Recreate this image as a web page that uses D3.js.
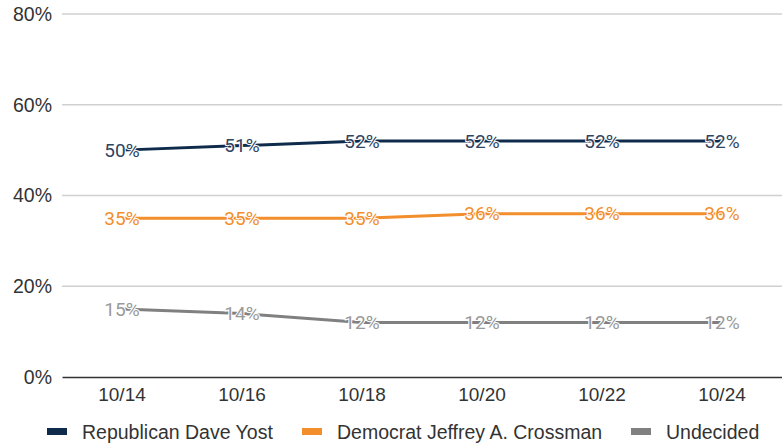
<!DOCTYPE html>
<html>
<head>
<meta charset="utf-8">
<script src="https://cdn.jsdelivr.net/npm/d3@7"></script>
<style>
  body { margin: 0; background: #fff; }
  .axis text, .legend text { font-family: "Liberation Sans", Arial, sans-serif; }
  .vlabel { font-family: Roboto, sans-serif; }
</style>
</head>
<body>
<svg id="chart" width="782" height="444"></svg>
<script>
// poll data
var dates = ['10/14', '10/16', '10/18', '10/20', '10/22', '10/24'];
var yost = [50, 51, 52, 52, 52, 52];
var crossman = [35, 35, 35, 36, 36, 36];
var undecided = [15, 14, 12, 12, 12, 12];
var yTicks = [0, 20, 40, 60, 80];

var series = [
  { name: 'Republican Dave Yost', values: yost, line: '#0f2b4c', label: '#2f4463' },
  { name: 'Democrat Jeffrey A. Crossman', values: crossman, line: '#f28e2b', label: '#f28e2b' },
  { name: 'Undecided', values: undecided, line: '#808080', label: '#9a9a9a' }
];

var margin = { top: 14, right: 0, bottom: 67, left: 62 };
var width = 782 - margin.left - margin.right;
var height = 444 - margin.top - margin.bottom;

var svg = d3.select('#chart');
var g = svg.append('g').attr('transform', 'translate(' + margin.left + ',' + margin.top + ')');

var x = d3.scaleBand().domain(dates).range([0, width]);
var y = d3.scaleLinear().domain([0, 80]).range([height, 0]);

// gridlines
g.selectAll('.grid')
  .data(yTicks.filter(function (d) { return d > 0; }))
  .enter().append('line')
  .attr('x1', 0).attr('x2', width)
  .attr('y1', function (d) { return y(d); })
  .attr('y2', function (d) { return y(d); })
  .attr('stroke', '#d0d0d0')
  .attr('stroke-width', 1.5);

// y axis labels
var yAxis = d3.axisLeft(y).tickValues(yTicks).tickSize(0).tickPadding(10)
  .tickFormat(function (d) { return d + '%'; });
g.append('g').attr('class', 'axis').call(yAxis)
  .call(function (s) { s.select('.domain').remove(); })
  .selectAll('text')
  .attr('font-size', 19.5).attr('fill', '#333');

// x axis
var xAxis = d3.axisBottom(x).tickSize(0).tickPadding(11);
var xg = g.append('g').attr('class', 'axis').attr('transform', 'translate(0,' + height + ')').call(xAxis);
xg.select('.domain').attr('stroke', '#333').attr('stroke-width', 1.5);
xg.selectAll('text').attr('font-size', 19).attr('fill', '#333');

var line = d3.line()
  .x(function (d, i) { return x(dates[i]) + x.bandwidth() / 2; })
  .y(function (d) { return y(d); });

series.forEach(function (s) {
  g.append('path')
    .datum(s.values)
    .attr('fill', 'none')
    .attr('stroke', s.line)
    .attr('stroke-width', 3)
    .attr('d', line);
});

// value labels with white halo
series.forEach(function (s) {
  g.append('g').selectAll('text')
    .data(s.values)
    .enter().append('text')
    .attr('class', 'vlabel')
    .attr('x', function (d, i) { return x(dates[i]) + x.bandwidth() / 2; })
    .attr('y', function (d) { return y(d); })
    .attr('dy', '0.35em')
    .attr('text-anchor', 'middle')
    .attr('font-size', 19)
    .attr('fill', s.label)
    .attr('stroke', '#fff')
    .attr('stroke-width', 2)
    .attr('paint-order', 'stroke')
    .text(function (d) { return d + '%'; });
});

// legend
var legendX = [47, 302, 631];
var legend = svg.append('g').attr('class', 'legend').attr('transform', 'translate(0,432)');
series.forEach(function (s, i) {
  legend.append('rect')
    .attr('x', legendX[i]).attr('y', -4)
    .attr('width', 20).attr('height', 7)
    .attr('fill', s.line);
  legend.append('text')
    .attr('x', legendX[i] + 35).attr('y', 0)
    .attr('dy', '0.35em')
    .attr('font-size', 19.5)
    .attr('fill', '#333')
    .text(s.name);
});
</script>
</body>
</html>
